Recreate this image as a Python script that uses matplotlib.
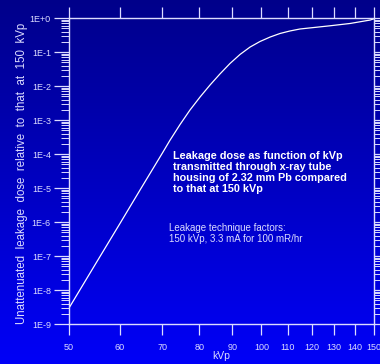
import numpy as np
import matplotlib
matplotlib.use("Agg")
import matplotlib.pyplot as plt
from matplotlib.colors import LinearSegmentedColormap
from matplotlib.ticker import FixedLocator, LogLocator, NullFormatter

# leakage curve
kvp = [50, 55, 60, 65, 70, 71.9, 74.6, 77.3, 80.2, 83.1, 86.1, 89.3, 92.6,
       96.0, 99.5, 103.2, 106.9, 110.8, 114.9, 127.9, 137.6, 147.9, 150]
dose = [2.95e-9, 5.8e-8, 8.7e-7, 1.07e-5, 1.07e-4, 2.5e-4, 7.4e-4, 1.96e-3,
        4.8e-3, 0.0107, 0.0225, 0.046, 0.085, 0.140, 0.204, 0.276, 0.35,
        0.415, 0.475, 0.589, 0.69, 0.87, 0.95]

x_ticks = [50, 60, 70, 80, 90, 100, 110, 120, 130, 140, 150]
y_ticks = [1e-9, 1e-8, 1e-7, 1e-6, 1e-5, 1e-4, 1e-3, 1e-2, 1e-1, 1e0]
y_labels = ["1E-9", "1E-8", "1E-7", "1E-6", "1E-5", "1E-4", "1E-3", "1E-2", "1E-1", "1E+0"]

plt.rcParams["font.family"] = ["Liberation Sans", "DejaVu Sans"]
fg = "#dcdcff"

fig = plt.figure(figsize=(3.8, 3.64), dpi=100)

# gradient background
bg = fig.add_axes([0, 0, 1, 1], zorder=0)
cmap = LinearSegmentedColormap.from_list("bg", ["#00008a", "#0000f8"])
bg.imshow(np.linspace(0, 1, 256).reshape(-1, 1), aspect="auto", cmap=cmap,
          extent=[0, 1, 0, 1])
bg.axis("off")

ax = fig.add_axes([69 / 380, 40 / 364, 305 / 380, 306 / 364], zorder=1)
ax.patch.set_alpha(0)
ax.plot(kvp, dose, color="white", lw=0.9)

ax.set_xscale("log")
ax.set_yscale("log")
ax.set_xlim(50, 150)
ax.set_ylim(1e-9, 1)

ax.xaxis.set_major_locator(FixedLocator(x_ticks))
ax.xaxis.set_minor_locator(FixedLocator([]))
ax.set_xticklabels([str(t) for t in x_ticks])
ax.xaxis.set_minor_formatter(NullFormatter())
ax.yaxis.set_major_locator(FixedLocator(y_ticks))
ax.set_yticklabels(y_labels)
ax.yaxis.set_minor_locator(LogLocator(base=10, subs=np.arange(2, 10), numticks=20))
ax.yaxis.set_minor_formatter(NullFormatter())

ax.tick_params(axis="both", which="major", direction="out", color=fg,
               labelcolor=fg, labelsize=6.5, width=0.9)
ax.tick_params(axis="x", which="major", length=8, top=True, pad=6)
ax.tick_params(axis="y", which="major", length=11, right=True, pad=2)
ax.tick_params(axis="y", which="minor", direction="out", length=6, right=True,
               color=fg, width=0.7)

for s in ax.spines.values():
    s.set_color(fg)
    s.set_linewidth(1)

ax.set_xlabel("kVp", color=fg, fontsize=7.5, labelpad=-1)
fig.text(22 / 380, 1 - 173 / 364,
         "Unattenuated  leakage  dose  relative  to  that  at  150  kVp",
         rotation=90, color=fg, fontsize=8.3, ha="center", va="center")

ax.text(0.342, 0.565,
        "Leakage dose as function of kVp\ntransmitted through x-ray tube\n"
        "housing of 2.32 mm Pb compared\nto that at 150 kVp",
        transform=ax.transAxes, color="white", fontsize=7.8, fontweight="bold",
        va="top", ha="left", linespacing=1.1)
ax.text(0.328, 0.33,
        "Leakage technique factors:\n150 kVp, 3.3 mA for 100 mR/hr",
        transform=ax.transAxes, color=fg, fontsize=7, va="top", ha="left",
        linespacing=1.1)

fig.savefig("out.png", dpi=100)
